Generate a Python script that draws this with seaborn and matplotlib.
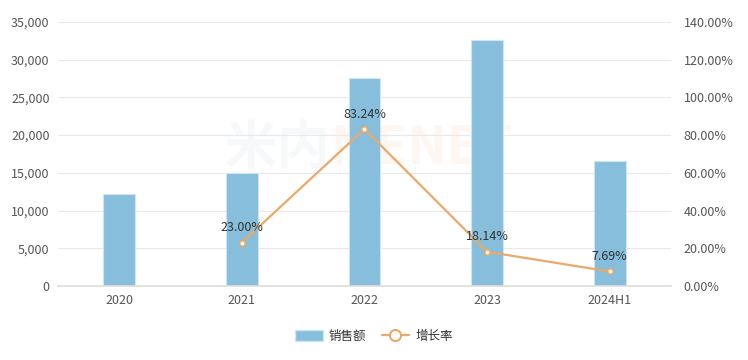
import matplotlib
matplotlib.use("Agg")
import matplotlib.pyplot as plt
import seaborn as sns
import pandas as pd
from matplotlib.patches import Patch
from matplotlib.lines import Line2D
from matplotlib.ticker import FuncFormatter, MultipleLocator

categories = ["2020", "2021", "2022", "2023", "2024H1"]
sales = [12200, 15000, 27600, 32600, 16600]
growth_cats = ["2021", "2022", "2023", "2024H1"]
growth = [23.00, 83.24, 18.14, 7.69]

sns.set_theme(style="white")
plt.rcParams['font.family'] = ['Noto Sans CJK SC', 'DejaVu Sans']

bar_color = "#86BEDB"
line_color = "#E8A96A"
text_color = "#555555"

fig = plt.figure(figsize=(7.48, 3.6), dpi=100)
ax = fig.add_axes([0.0775, 0.2056, 0.8195, 0.7334])

df = pd.DataFrame({"cat": categories, "sales": sales})
sns.barplot(data=df, x="cat", y="sales", ax=ax, color=bar_color, width=0.26,
            saturation=1, edgecolor="#CFE6F2", linewidth=0.8, zorder=2)
ax.set_ylim(0, 35000)
ax.yaxis.set_major_locator(MultipleLocator(5000))
ax.yaxis.set_major_formatter(FuncFormatter(lambda v, p: f"{int(v):,}"))
ax.set_xlim(-0.5, 4.5)
ax.set_xlabel("")
ax.set_ylabel("")
ax.grid(axis="y", color="#E9E9E9", linewidth=0.8, zorder=0)
ax.set_axisbelow(True)
for s in ["top", "right", "left"]:
    ax.spines[s].set_visible(False)
ax.spines["bottom"].set_color("#DDDDDD")
ax.tick_params(axis="both", length=0, labelsize=9, colors=text_color, pad=6)

# watermark
ax.text(0.445, 0.52, "米内", transform=ax.transAxes, fontsize=38, fontweight="bold",
        color="#E2EAEE", alpha=0.3, ha="right", va="center", zorder=1)
ax.text(0.445, 0.52, "MENET", transform=ax.transAxes, fontsize=38, fontweight="bold",
        color="#FBE3D2", alpha=0.3, ha="left", va="center", zorder=1)

ax2 = ax.twinx()
gx = [categories.index(c) for c in growth_cats]
gdf = pd.DataFrame({"x": gx, "g": growth})
sns.lineplot(data=gdf, x="x", y="g", ax=ax2, color=line_color, linewidth=1.6,
             marker="o", markersize=4, markerfacecolor="white",
             markeredgecolor=line_color, markeredgewidth=1.2, zorder=3)
ax2.set_ylim(0, 140)
ax2.yaxis.set_major_locator(MultipleLocator(20))
ax2.yaxis.set_major_formatter(FuncFormatter(lambda v, p: f"{v:.2f}%"))
ax2.set_xlim(-0.5, 4.5)
ax2.set_ylabel("")
ax2.set_xlabel("")
for s in ax2.spines.values():
    s.set_visible(False)
ax2.tick_params(axis="both", length=0, labelsize=9, colors=text_color, pad=9)
for x, g in zip(gx, growth):
    ax2.annotate(f"{g:.2f}%", (x, g), xytext=(0, 6), textcoords="offset points",
                 ha="center", va="bottom", fontsize=9, color="#333333")

handles = [Patch(facecolor=bar_color, edgecolor="#CFE6F2", label="销售额"),
           Line2D([0], [0], color=line_color, linewidth=1.6, marker="o", markersize=8,
                  markerfacecolor="white", markeredgecolor=line_color, markeredgewidth=1.5,
                  label="增长率")]
fig.legend(handles=handles, loc="center", bbox_to_anchor=(0.5, 0.065), ncol=2,
           frameon=False, fontsize=9, handlelength=2.2, handleheight=1.0,
           columnspacing=1.2, handletextpad=0.5, labelcolor="#333333")

fig.savefig("out.png", dpi=100)
